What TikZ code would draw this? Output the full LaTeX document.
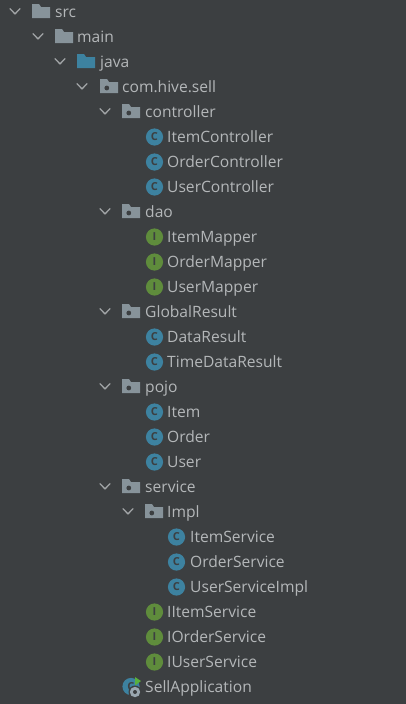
\documentclass[tikz,border=0pt]{standalone}
\usepackage{fontspec}
\setmainfont{Open Sans}
\definecolor{bg}{HTML}{3C3F41}
\definecolor{txt}{HTML}{B4B7B9}
\definecolor{fold}{HTML}{87939A}
\definecolor{blue}{HTML}{3D82A0}
\definecolor{grn}{HTML}{5F8C3C}
\definecolor{runcol}{HTML}{59B03C}
\definecolor{gear}{HTML}{9AA7B0}
\tikzset{x=1pt,y=-1pt,
 lbl/.style={anchor=base west,inner sep=0pt,text=txt,font=\fontsize{15.6}{18}\selectfont},
 chev/.style={draw=txt!85!bg,line width=1.3pt,line cap=round,line join=round},
 glyph/.style={inner sep=0pt,text=bg,font=\bfseries\fontsize{11}{11}\selectfont}}
\newcommand{\Chev}[2]{\draw[chev] (#1-5,#2-3.3) -- (#1,#2+1.9) -- (#1+5,#2-3.3);}
\newcommand{\Folder}[3]{\fill[#3] (#1,#2-8) -- (#1+7,#2-8) -- (#1+9,#2-5) -- (#1+18,#2-5) -- (#1+18,#2+6) -- (#1,#2+6) -- cycle;}
\newcommand{\Pack}[2]{\Folder{#1}{#2}{fold}\fill[bg] (#1+6.8,#2+1) circle (2.4);}
\newcommand{\Cls}[2]{\fill[blue] (#1,#2) circle (8.6);\node[glyph] at (#1,#2) {C};}
\newcommand{\Ifc}[2]{\fill[grn] (#1,#2) circle (8.6);\node[glyph] at (#1,#2) {I};}
\newcommand{\Row}[4]{\node[lbl] (#1) at (#2,#3+5.5) {#4};}
\begin{document}
\begin{tikzpicture}
\useasboundingbox (0,0) rectangle (406,704);
\fill[bg] (0,0) rectangle (406,704);
\Chev{15}{12}\Folder{32}{12}{fold}\Row{src}{55}{12}{src}
\Chev{38}{37}\Folder{55}{37}{fold}\Row{main}{77}{37}{main}
\Chev{60}{62}\Folder{77}{62}{blue}\Row{java}{100}{62}{java}
\Chev{82}{87}\Pack{100}{87}\Row{com}{122}{87}{com.hive.sell}
\Chev{105}{112}\Pack{122}{112}\Row{controller}{145}{112}{controller}
\Cls{154.5}{137}\Row{itemc}{167}{137}{ItemController}
\Cls{154.5}{162}\Row{orderc}{167}{162}{OrderController}
\Cls{154.5}{187}\Row{userc}{167}{187}{UserController}
\Chev{105}{212}\Pack{122}{212}\Row{dao}{145}{212}{dao}
\Ifc{154.5}{237}\Row{itemm}{167}{237}{ItemMapper}
\Ifc{154.5}{262}\Row{orderm}{167}{262}{OrderMapper}
\Ifc{154.5}{287}\Row{userm}{167}{287}{UserMapper}
\Chev{105}{312}\Pack{122}{312}\Row{global}{145}{312}{GlobalResult}
\Cls{154.5}{337}\Row{data}{167}{337}{DataResult}
\Cls{154.5}{362}\Row{time}{167}{362}{TimeDataResult}
\Chev{105}{387}\Pack{122}{387}\Row{pojo}{145}{387}{pojo}
\Cls{154.5}{412}\Row{item}{167}{412}{Item}
\Cls{154.5}{437}\Row{order}{167}{437}{Order}
\Cls{154.5}{462}\Row{user}{167}{462}{User}
\Chev{105}{487}\Pack{122}{487}\Row{service}{145}{487}{service}
\Chev{128}{512}\Pack{145}{512}\Row{impl}{167}{512}{Impl}
\Cls{176.5}{537}\Row{items}{190}{537}{ItemService}
\Cls{176.5}{562}\Row{orders}{190}{562}{OrderService}
\Cls{176.5}{587}\Row{users}{190}{587}{UserServiceImpl}
\Ifc{154.5}{612}\Row{iitem}{167}{612}{IItemService}
\Ifc{154.5}{637}\Row{iorder}{167}{637}{IOrderService}
\Ifc{154.5}{662}\Row{iuser}{167}{662}{IUserService}
\Cls{131}{686.5}
\fill[runcol] (135,677) -- (141,681) -- (135,685.5) -- cycle;
\fill[bg] (135,692) circle (6.5);
\fill[gear] (135,692) circle (5.2);
\fill[bg] (135,692) circle (2);
\Row{sell}{145}{687}{SellApplication}
\end{tikzpicture}
\end{document}
